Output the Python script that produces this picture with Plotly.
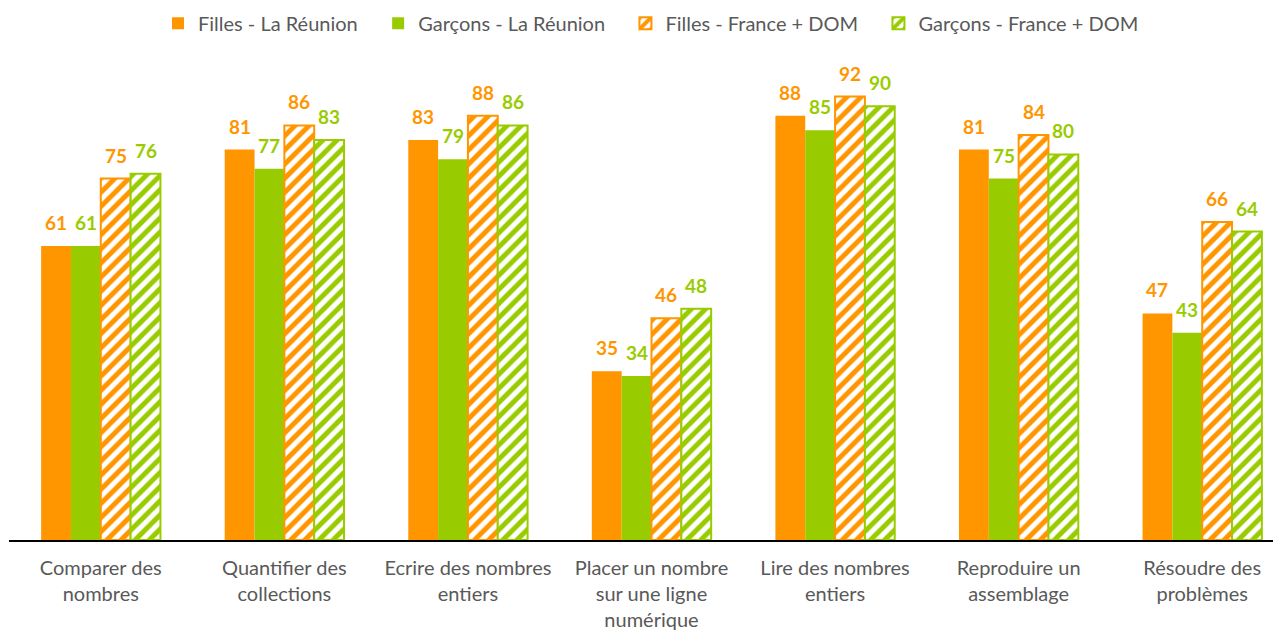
import plotly.graph_objects as go

categories = ["Comparer des<br>nombres", "Quantifier des<br>collections", "Ecrire des nombres<br>entiers",
              "Placer un nombre<br>sur une ligne<br>numérique", "Lire des nombres<br>entiers",
              "Reproduire un<br>assemblage", "Résoudre des<br>problèmes"]
series_names = ["Filles - La Réunion", "Garçons - La Réunion", "Filles - France + DOM", "Garçons - France + DOM"]
filles_reunion = [61, 81, 83, 35, 88, 81, 47]
garcons_reunion = [61, 77, 79, 34, 85, 75, 43]
filles_france = [75, 86, 88, 46, 92, 84, 66]
garcons_france = [76, 83, 86, 48, 90, 80, 64]

ORANGE = "#FF9600"
GREEN = "#99CC00"
FONT = "Lato"

W, H = 1290, 632
ML, MR, MT, MB = 1, 4, 50, 100
BARGAP = 0.35
NB = 4

fig = go.Figure()

cat_w = (W - ML - MR) / len(categories)
bar_w = cat_w * (1 - BARGAP) / NB
PAD = "\u00a0" * 3

def add(idx, name, vals, color, hatched):
    marker = dict(color=color, line=dict(width=0))
    if hatched:
        marker = dict(color="white",
                      pattern=dict(shape="/", fgcolor=color, bgcolor="white", size=10,
                                   solidity=0.5, fgopacity=1),
                      line=dict(color=color, width=2))
    label = name + (PAD if idx < NB - 1 else "")
    fig.add_trace(go.Bar(name=label, x=categories, y=vals, marker=marker))
    shift = (idx - (NB - 1) / 2) * bar_w
    for c, v in zip(categories, vals):
        fig.add_annotation(x=c, y=v, xref="x", yref="y", text=str(v), showarrow=False,
                           xshift=shift, yshift=10, yanchor="bottom", xanchor="center",
                           font=dict(color=color, size=19, family=FONT, weight="bold"))

add(0, series_names[0], filles_reunion, ORANGE, False)
add(1, series_names[1], garcons_reunion, GREEN, False)
add(2, series_names[2], filles_france, ORANGE, True)
add(3, series_names[3], garcons_france, GREEN, True)

fig.update_layout(
    width=W, height=H,
    margin=dict(l=ML, r=MR, t=MT, b=MB),
    barmode="group", bargap=BARGAP, bargroupgap=0,
    plot_bgcolor="white", paper_bgcolor="white",
    font=dict(family=FONT, size=20, color="#595959"),
    legend=dict(orientation="h", x=150 / W, xanchor="left", y=0.976, yanchor="middle",
                yref="container", xref="container", font=dict(size=20, color="#595959"), itemwidth=30,
                traceorder="normal"),
    xaxis=dict(showline=True, linecolor="black", linewidth=1.5, ticks="",
               tickfont=dict(size=20, color="#595959"), ticklabelstandoff=9),
    yaxis=dict(range=[0, 100], visible=False, showgrid=False),
    showlegend=True,
)

fig.write_html("out.html")
